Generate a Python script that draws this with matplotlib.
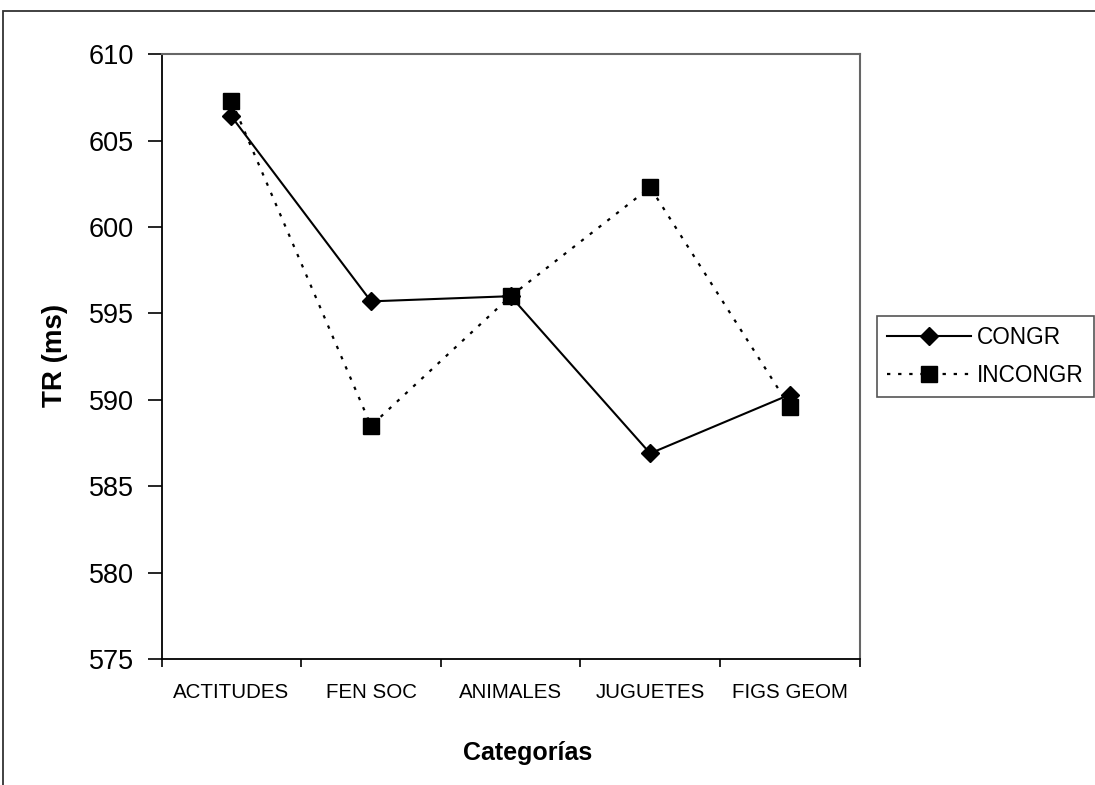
import matplotlib
matplotlib.use("Agg")
import matplotlib.pyplot as plt
from matplotlib.patches import Rectangle
import numpy as np

categories = ["ACTITUDES", "FEN SOC", "ANIMALES", "JUGUETES", "FIGS GEOM"]
congr = [606.4, 595.7, 596.0, 586.9, 590.3]
incongr = [607.3, 588.5, 596.0, 602.3, 589.6]
y_ticks = [575, 580, 585, 590, 595, 600, 605, 610]

plt.rcParams["font.family"] = ["Liberation Sans", "DejaVu Sans"]

W, H = 1095, 785
fig = plt.figure(figsize=(W / 100, H / 100), dpi=100)
ax = fig.add_axes([161.7 / W, 1 - 659 / H, (859.5 - 161.7) / W, (659 - 54.3) / H])

x = np.arange(len(categories))
ax.plot(x, congr, color="black", lw=1.5, marker="D", markersize=9,
        label="CONGR", zorder=3)
ax.plot(x, incongr, color="black", lw=1.6, linestyle=(0, (1.5, 3.5)),
        marker="s", markersize=11, label="INCONGR", zorder=4)

ax.set_xlim(-0.5, len(categories) - 0.5)
ax.set_ylim(575, 610)
ax.set_yticks(y_ticks)
ax.tick_params(axis="y", direction="out", length=10, width=1.2,
               labelsize=19.5, pad=10, colors="black")

# category names sit between the boundary ticks
ax.set_xticks(x)
ax.set_xticklabels(categories)
ax.tick_params(axis="x", which="major", length=0, labelsize=14.8, pad=17)
ax.set_xticks(np.arange(len(categories) + 1) - 0.5, minor=True)
ax.tick_params(axis="x", which="minor", direction="out", length=6, width=1.2)

for side in ("left", "bottom"):
    ax.spines[side].set_color("black")
    ax.spines[side].set_linewidth(1.3)
for side in ("top", "right"):
    ax.spines[side].set_color("#666666")
    ax.spines[side].set_linewidth(1.5)

fig.text(55 / W, 1 - 355 / H, "TR (ms)", rotation=90, fontsize=20,
         fontweight="bold", ha="center", va="center")
fig.text(528 / W, 1 - 753 / H, "Categorías", fontsize=18,
         fontweight="bold", ha="center", va="center")

leg = fig.legend(loc="upper left", bbox_to_anchor=(877 / W, 1 - 316 / H),
                 borderaxespad=0, fontsize=16.3, handlelength=3.7,
                 handletextpad=0.25, labelspacing=0.65, borderpad=0.45,
                 fancybox=False, framealpha=1)
leg.get_frame().set_edgecolor("#555555")
leg.get_frame().set_linewidth(1.2)

# outer chart frame
fig.add_artist(Rectangle((3 / W, -0.5), 2, 1.5 - 11 / H, transform=fig.transFigure,
                         fill=False, edgecolor="#333333", linewidth=1.3))

fig.savefig("out.png", dpi=100, facecolor="white")
